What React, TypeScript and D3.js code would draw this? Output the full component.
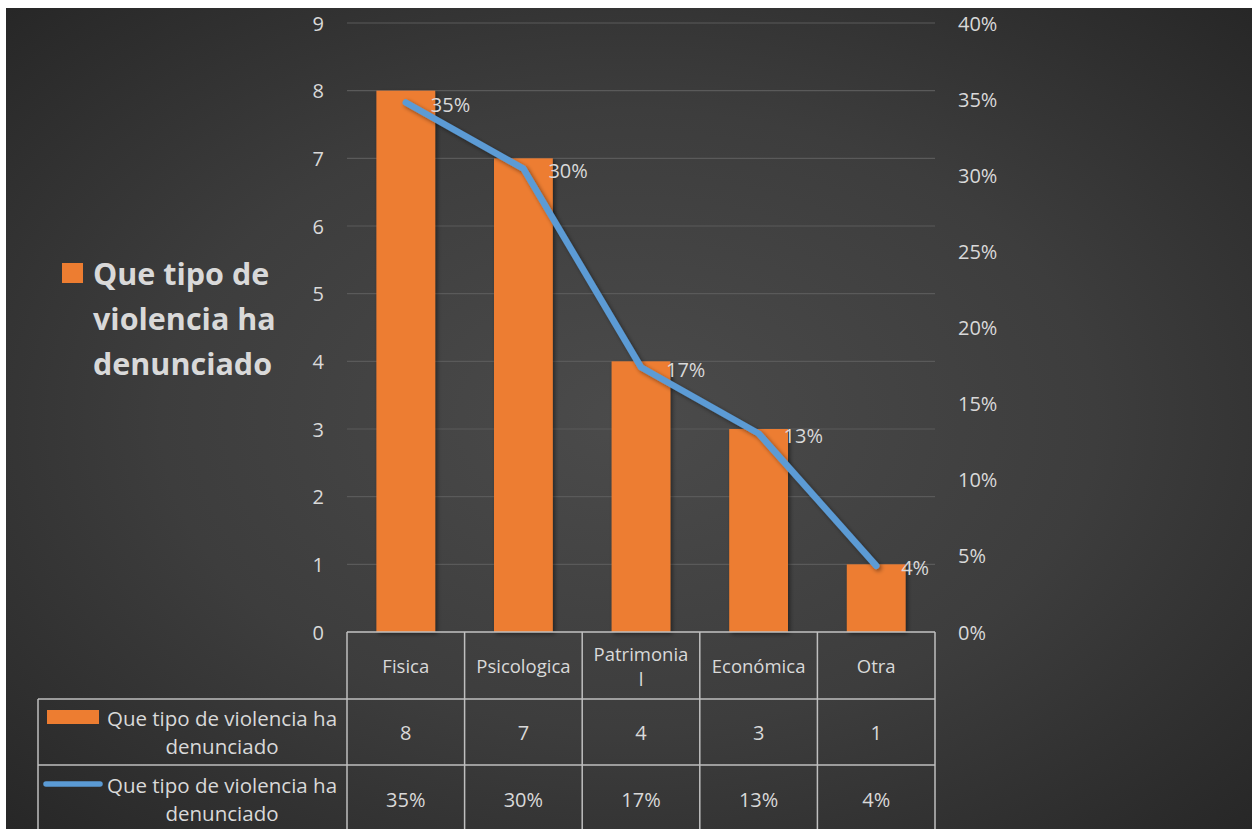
import React from "react";
import * as d3 from "d3";

const categories = ["Fisica", "Psicologica", "Patrimonial", "Económica", "Otra"];
const headerLines = [["Fisica"], ["Psicologica"], ["Patrimonia", "l"], ["Económica"], ["Otra"]];
const counts = [8, 7, 4, 3, 1];
const shares = [0.3478, 0.3043, 0.1739, 0.1304, 0.0435];
const shareLabels = ["35%", "30%", "17%", "13%", "4%"];
const leftTicks = [0, 1, 2, 3, 4, 5, 6, 7, 8, 9];
const rightTicks = [0, 0.05, 0.1, 0.15, 0.2, 0.25, 0.3, 0.35, 0.4];
const seriesName = ["Que tipo de violencia ha", "denunciado"];
const legendLines = ["Que tipo de", "violencia ha", "denunciado"];

const W = 1252;
const H = 829;
const FONT = "'Open Sans', sans-serif";
const TXT = "#d9d9d9";
const NUM = 20;

export default function App() {
  const plotL = 347, plotR = 935, plotT = 23, plotB = 632;
  const x = d3.scaleBand<string>().domain(categories).range([plotL, plotR]).paddingInner(0.5).paddingOuter(0.25);
  const xs = d3.scaleBand<string>().domain(categories).range([plotL, plotR]);
  const yL = d3.scaleLinear().domain([0, 9]).range([plotB, plotT]);
  const yR = d3.scaleLinear().domain([0, 0.4]).range([plotB, plotT]);
  const line = d3.line<number>()
    .x((_, i) => (x(categories[i]) as number) + x.bandwidth() / 2)
    .y((d) => yR(d));

  const row1 = 632, row2 = 699, row3 = 765, rowEnd = 832;
  const tableL = 38;
  const colEdges = categories.map((c) => xs(c) as number).concat([plotR]);
  const fmtPct = d3.format(".0%");

  return (
    <svg width={W} height={H} style={{ position: "absolute", left: 0, top: 0 }} fontFamily={FONT}>
      <defs>
        <radialGradient id="bg" cx="0.5" cy="0.5" r="0.75" gradientUnits="objectBoundingBox">
          <stop offset="0" stopColor="#4b4b4b" />
          <stop offset="0.5" stopColor="#3d3d3d" />
          <stop offset="1" stopColor="#242424" />
        </radialGradient>
        <filter id="sh" x="-20%" y="-20%" width="150%" height="150%">
          <feDropShadow dx="2" dy="2" stdDeviation="2" floodColor="#000" floodOpacity="0.45" />
        </filter>
      </defs>
      <rect x={6} y={8} width={W - 6} height={H - 8} fill="url(#bg)" />

      {/* gridlines */}
      {leftTicks.map((t) => (
        <line key={"g" + t} x1={plotL} x2={plotR} y1={yL(t)} y2={yL(t)} stroke="#5a5a5a" strokeWidth={1.2} />
      ))}

      {/* left axis labels */}
      {leftTicks.map((t) => (
        <text key={"l" + t} x={324} y={yL(t)} textAnchor="end" dominantBaseline="central" fill={TXT} fontSize={NUM}>
          {t}
        </text>
      ))}
      {/* right axis labels */}
      {rightTicks.map((t) => (
        <text key={"r" + t} x={958} y={yR(t)} textAnchor="start" dominantBaseline="central" fill={TXT} fontSize={NUM}>
          {fmtPct(t)}
        </text>
      ))}

      {/* bars */}
      {categories.map((c, i) => (
        <rect key={"b" + c} x={x(c)} y={yL(counts[i])} width={x.bandwidth()} height={yL(0) - yL(counts[i])}
          fill="#ed7d31" filter="url(#sh)" />
      ))}

      {/* line */}
      <path d={line(shares) || ""} fill="none" stroke="#5b9bd5" strokeWidth={6.5} strokeLinejoin="round"
        strokeLinecap="round" filter="url(#sh)" />
      {categories.map((c, i) => (
        <text key={"dl" + c} x={(x(c) as number) + x.bandwidth() / 2 + 25} y={yR(shares[i]) + 2}
          dominantBaseline="central" fill={TXT} fontSize={NUM}>
          {shareLabels[i]}
        </text>
      ))}

      {/* legend */}
      <rect x={62} y={263} width={21} height={20} fill="#ed7d31" />
      {legendLines.map((t, i) => (
        <text key={"lg" + i} x={93} y={273 + i * 45} dominantBaseline="central" fill={TXT} fontSize={30.5}
          fontWeight="bold">
          {t}
        </text>
      ))}

      {/* data table */}
      <g stroke="#bfbfbf" strokeWidth={1.5} fill="none">
        <line x1={plotL} x2={plotR} y1={row1} y2={row1} />
        <line x1={tableL} x2={plotR} y1={row2} y2={row2} />
        <line x1={tableL} x2={plotR} y1={row3} y2={row3} />
        <line x1={tableL} x2={tableL} y1={row2} y2={rowEnd} />
        {colEdges.map((e, i) => (
          <line key={"ce" + i} x1={e} x2={e} y1={row1} y2={rowEnd} />
        ))}
      </g>
      {categories.map((c, i) => {
        const cx = (xs(c) as number) + xs.bandwidth() / 2;
        const lines = headerLines[i];
        return (
          <g key={"tc" + c}>
            {lines.map((t, j) => (
              <text key={j} x={cx} y={(row1 + row2) / 2 + (j - (lines.length - 1) / 2) * 25}
                textAnchor="middle" dominantBaseline="central" fill={TXT} fontSize={18.5}>
                {t}
              </text>
            ))}
            <text x={cx} y={(row2 + row3) / 2} textAnchor="middle" dominantBaseline="central" fill={TXT} fontSize={NUM}>
              {counts[i]}
            </text>
            <text x={cx} y={799} textAnchor="middle" dominantBaseline="central" fill={TXT} fontSize={NUM}>
              {shareLabels[i]}
            </text>
          </g>
        );
      })}
      {/* table legend keys */}
      <rect x={47} y={710} width={52} height={14} fill="#ed7d31" />
      <line x1={46} x2={100} y1={784} y2={784} stroke="#5b9bd5" strokeWidth={5.5} strokeLinecap="round" />
      {[718, 785].map((y0, r) => (
        <g key={"sn" + r}>
          {seriesName.map((t, j) => (
            <text key={j} x={222} y={y0 + j * 28} textAnchor="middle" dominantBaseline="central" fill={TXT}
              fontSize={20.5}>
              {t}
            </text>
          ))}
        </g>
      ))}
    </svg>
  );
}
